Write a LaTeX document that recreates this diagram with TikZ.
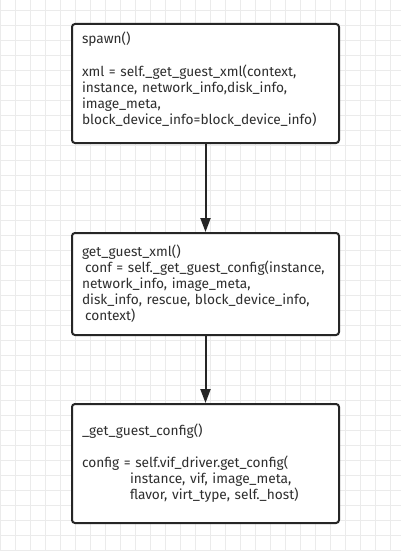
\documentclass[tikz,border=0pt]{standalone}
\usepackage{fontspec}
\setmainfont{Fira Sans}
\usepackage{xcolor}
\usetikzlibrary{positioning,arrows.meta}

\definecolor{gridgray}{HTML}{EBEBEB}
\definecolor{boxline}{HTML}{262626}
\definecolor{codetext}{HTML}{2E2E2E}

\begin{document}
\begin{tikzpicture}[x=1pt, y=-1pt,
  codebox/.style={draw=boxline, line width=2pt, rounded corners=3pt, fill=white,
    text=codetext, align=left, text width=247pt, inner xsep=10pt, inner ysep=0pt,
    font=\fontsize{13.7pt}{16pt}\selectfont}]
\useasboundingbox[fill=white] (0,0) rectangle (401,551);
% background grid
\foreach \gx in {0,15,...,400} \draw[gridgray, line width=0.8pt] (\gx,0) -- (\gx,551);
\foreach \gy in {10,25,...,550} \draw[gridgray, line width=0.8pt] (0,\gy) -- (401,\gy);

\node[codebox, minimum height=119pt] (spawn) at (205.5,83.5)
  {spawn()\\[17pt]
   xml = self.\_get\_guest\_xml(context,\\
   instance, network\_info,disk\_info,\\
   image\_meta,\\
   block\_device\_info=block\_device\_info)\\[-5pt]\mbox{}};
\node[codebox, minimum height=102pt, below=88pt of spawn] (xml)
  {get\_guest\_xml()\\
   \hspace*{3pt}conf = self.\_get\_guest\_config(instance,\\
   network\_info, image\_meta,\\
   disk\_info, rescue, block\_device\_info,\\
   \hspace*{3pt}context)};
\node[codebox, minimum height=119pt, below=67pt of xml] (conf)
  {\_get\_guest\_config()\\[16pt]
   config = self.vif\_driver.get\_config(\\
   \hspace*{48pt}instance, vif, image\_meta,\\
   \hspace*{48pt}flavor, virt\_type, self.\_host)};

\draw[-{Triangle[length=14pt,width=10pt]}, boxline, line width=2pt] (spawn) -- (xml);
\draw[-{Triangle[length=14pt,width=10pt]}, boxline, line width=2pt] (xml) -- (conf);
\end{tikzpicture}
\end{document}
